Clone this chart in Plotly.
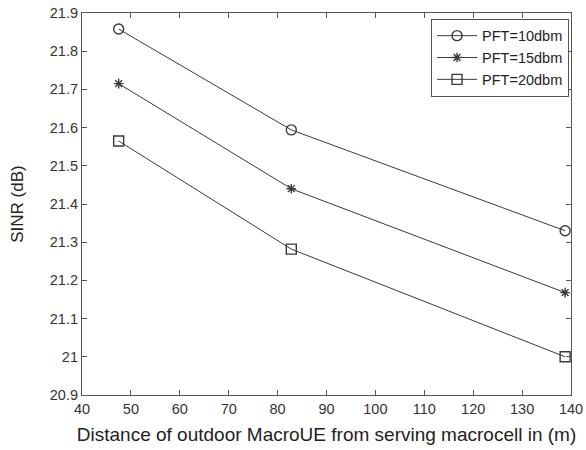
import plotly.graph_objects as go

# Distance of outdoor MacroUE from serving macrocell (m)
distance = [47.5, 82.8, 138.8]

# SINR (dB) per femtocell transmit power
sinr_10dbm = [21.858, 21.594, 21.330]
sinr_15dbm = [21.715, 21.440, 21.168]
sinr_20dbm = [21.565, 21.282, 21.000]

series_names = ["PFT=10dbm", "PFT=15dbm", "PFT=20dbm"]
series_values = [sinr_10dbm, sinr_15dbm, sinr_20dbm]
series_symbols = ["circle-open", "asterisk-open", "square-open"]
series_sizes = [10, 8, 10]

x_ticks = [40, 50, 60, 70, 80, 90, 100, 110, 120, 130, 140]
y_ticks = [20.9, 21, 21.1, 21.2, 21.3, 21.4, 21.5, 21.6, 21.7, 21.8, 21.9]

line_color = "#3a3a3a"
fig = go.Figure()
for name, vals, sym, sz in zip(series_names, series_values, series_symbols, series_sizes):
    fig.add_trace(go.Scatter(
        x=distance, y=vals, name=name, mode="lines+markers",
        line=dict(color=line_color, width=1),
        marker=dict(symbol=sym, size=sz, color=line_color,
                    line=dict(color=line_color, width=1.4)),
    ))

axis_common = dict(
    showline=True, linecolor="#555555", linewidth=1.2, mirror="allticks",
    ticks="inside", ticklen=5, tickcolor="#555555",
    showgrid=False, zeroline=False, automargin=False,
    tickfont=dict(family="Liberation Sans, Arial, sans-serif", size=14.5, color="#333333"),
)

fig.update_layout(
    width=586, height=450,
    margin=dict(l=82, r=15, t=13, b=55),
    paper_bgcolor="white", plot_bgcolor="white",
    font=dict(family="Liberation Sans, Arial, sans-serif", color="#222222"),
    xaxis=dict(range=[40, 140], tickvals=x_ticks,
               title=dict(text="Distance of outdoor MacroUE from serving macrocell in (m)",
                          font=dict(size=19), standoff=12),
               **axis_common),
    yaxis=dict(range=[20.9, 21.9], tickvals=y_ticks,
               ticktext=[f"{v:g}" for v in y_ticks],
               title=dict(text="SINR (dB)", font=dict(size=17), standoff=21),
               **axis_common),
    legend=dict(x=0.996, y=0.985, xanchor="right", yanchor="top",
                bgcolor="white", bordercolor="#555555", borderwidth=1,
                font=dict(size=14.5, color="#222222"),
                tracegroupgap=0, itemwidth=40),
    showlegend=True,
)

fig.write_html("out.html")
